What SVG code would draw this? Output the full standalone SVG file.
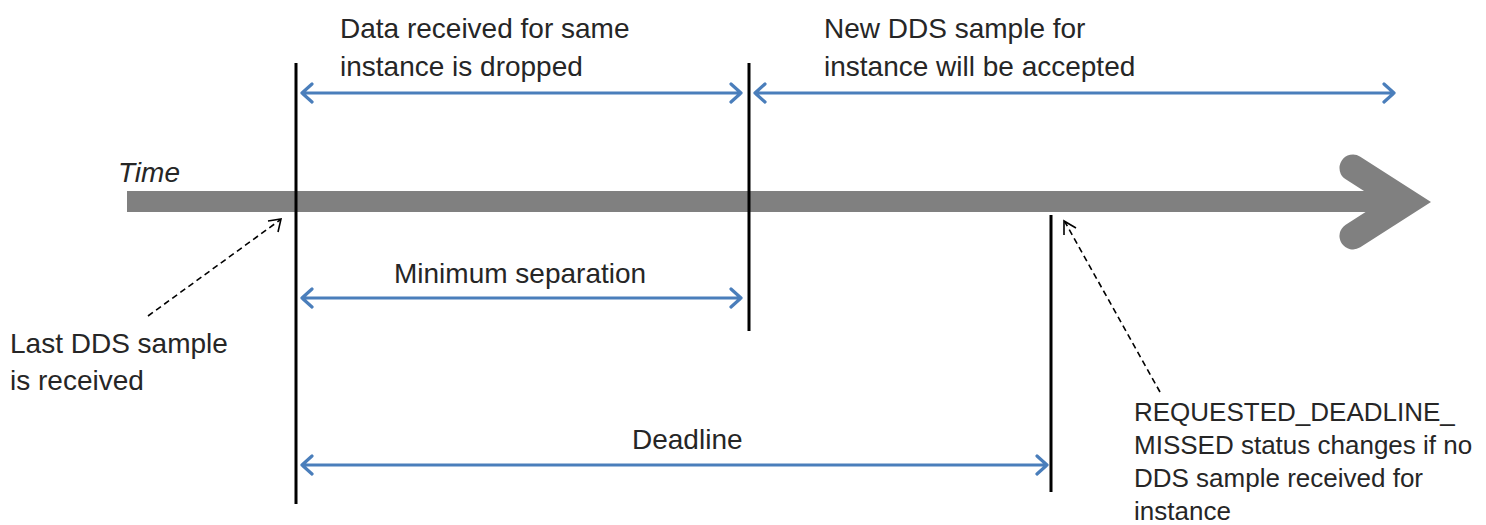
<svg xmlns="http://www.w3.org/2000/svg" width="1486" height="525" viewBox="0 0 1486 525">
<style>
text{font-family:"Liberation Sans",Arial,sans-serif;fill:#262626}
.l{font-size:28px}
.s{font-size:26px}
.v{stroke:#000;stroke-width:3;fill:none}
.b{stroke:#4a7ebb;stroke-width:3.2;fill:none;stroke-linecap:round;stroke-linejoin:round}
.d{stroke:#000;stroke-width:1.6;fill:none;stroke-dasharray:6 4}
.dh{stroke:#000;stroke-width:1.6;fill:none}
</style>
<g id="timeline">
<rect x="127" y="191" width="1275" height="21" fill="#808080"/>
<path d="M1353,168 L1406,202 L1353,236" stroke="#808080" stroke-width="27" fill="none" stroke-linecap="round" stroke-linejoin="miter" stroke-miterlimit="10"/>
<text x="118" y="182" class="l" font-style="italic">Time</text>
</g>
<g id="markers">
<line class="v" x1="296" y1="63" x2="296" y2="504"/>
<line class="v" x1="749" y1="63" x2="749" y2="331"/>
<line class="v" x1="1051" y1="215" x2="1051" y2="492"/>
</g>
<g id="connectors">
<g id="drop-range"><path class="b" d="M302,93 H741 M312,84 L302,93 L312,102 M731,84 L741,93 L731,102"/></g>
<g id="accept-range"><path class="b" d="M755,93 H1394 M765,84 L755,93 L765,102 M1384,84 L1394,93 L1384,102"/></g>
<g id="minsep-range"><path class="b" d="M302,298 H741 M312,289 L302,298 L312,307 M731,289 L741,298 L731,307"/></g>
<g id="deadline-range"><path class="b" d="M302,465 H1047 M312,456 L302,465 L312,474 M1037,456 L1047,465 L1037,474"/></g>
<g id="last-sample-pointer"><path class="d" d="M148,316 L280,220"/><path class="dh" d="M268,221 L281,219 L278,232"/></g>
<g id="missed-pointer"><path class="d" d="M1160,392 L1065,222"/><path class="dh" d="M1064,235 L1064,221 L1076,228"/></g>
</g>
<g id="label-drop"><text class="l" x="340" y="38">Data received for same</text><text class="l" x="340" y="76">instance is dropped</text></g>
<g id="label-accept"><text class="l" x="824" y="38">New DDS sample for</text><text class="l" x="824" y="76">instance will be accepted</text></g>
<g id="label-minsep"><text class="l" x="394" y="283">Minimum separation</text></g>
<g id="label-last"><text class="l" x="10" y="353">Last DDS sample</text><text class="l" x="10" y="390">is received</text></g>
<g id="label-deadline"><text class="l" x="632" y="449">Deadline</text></g>
<g id="label-missed"><text class="s" x="1134" y="421">REQUESTED_DEADLINE_</text><text class="s" x="1134" y="454">MISSED status changes if no</text><text class="s" x="1134" y="487">DDS sample received for</text><text class="s" x="1134" y="520">instance</text></g>
</svg>
